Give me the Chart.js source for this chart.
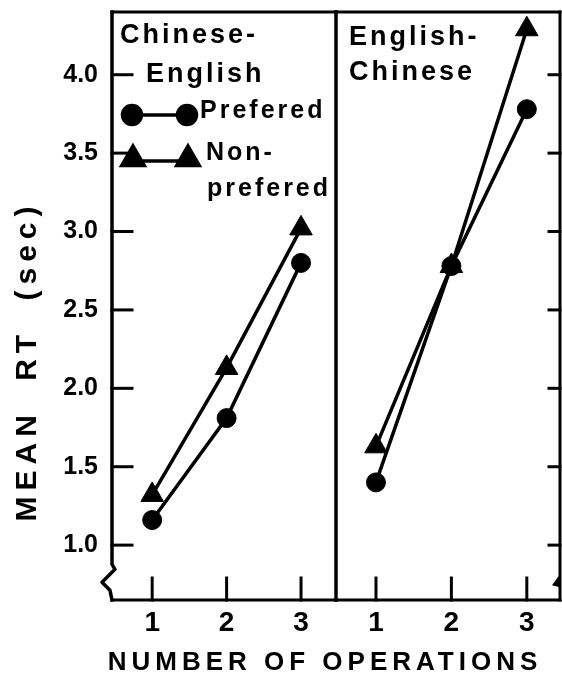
<!DOCTYPE html>
<html>
<head>
<meta charset="utf-8">
<script src="https://cdn.jsdelivr.net/npm/chart.js@4.4.0/dist/chart.umd.min.js"></script>
<style>
  html, body { margin: 0; padding: 0; background: #fff; }
  #wrap { position: relative; width: 562px; height: 673px; overflow: hidden; }
  canvas { position: absolute; top: 0; }
  #left { left: 0; }
  #right { left: 330px; }
  .axis-title {
    position: absolute;
    font-family: 'Liberation Sans', Arial, sans-serif;
    font-weight: bold;
    color: #000;
    white-space: nowrap;
    text-align: center;
  }
  #ytitle {
    width: 400px; height: 32px; left: -174px; top: 345px;
    font-size: 30px; line-height: 32px;
    letter-spacing: 6px; word-spacing: 14px;
    transform: rotate(-90deg);
  }
  #xtitle {
    width: 480px; left: 85px; top: 648px;
    font-size: 26px; line-height: 26px;
    letter-spacing: 5px;
  }
</style>
</head>
<body>
<div id="wrap">
  <canvas id="left" width="340" height="673"></canvas>
  <canvas id="right" width="232" height="673"></canvas>
  <div id="ytitle" class="axis-title">MEAN RT (sec)</div>
  <div id="xtitle" class="axis-title">NUMBER OF OPERATIONS</div>
</div>
<script>
const operations = [1, 2, 3];
const yTicks = [1.0, 1.5, 2.0, 2.5, 3.0, 3.5, 4.0];

// Chinese-English panel
const cePrefered = [1.16, 1.81, 2.80];
const ceNonPrefered = [1.32, 2.13, 3.02];

// English-Chinese panel
const ecPrefered = [1.40, 2.78, 3.78];
const ecNonPrefered = [1.63, 2.78, 4.29];

const FONT = "'Liberation Sans', Arial, sans-serif";
Chart.defaults.font.family = FONT;
Chart.defaults.color = '#000';

const points = vals => operations.map((x, i) => ({ x: x, y: vals[i] }));

function lineSet(label, vals, style, radius) {
  return {
    label: label,
    data: points(vals),
    borderColor: '#000',
    backgroundColor: '#000',
    borderWidth: 3.5,
    pointStyle: style,
    pointRadius: radius,
    pointBorderWidth: 1,
    clip: false
  };
}

function seg(ctx, x1, y1, x2, y2) {
  ctx.beginPath();
  ctx.moveTo(x1, y1);
  ctx.lineTo(x2, y2);
  ctx.stroke();
}

// box, inward tick marks and axis break
const framePlugin = {
  id: 'frame',
  beforeDatasetsDraw(chart, args, opts) {
    const ctx = chart.ctx;
    const { left, right, top, bottom } = chart.chartArea;
    const x = chart.scales.x, y = chart.scales.y;
    const yb = y.getPixelForValue(0.75);
    ctx.save();
    ctx.strokeStyle = '#000';
    ctx.fillStyle = '#000';
    ctx.lineWidth = 3;
    ctx.lineCap = 'square';
    seg(ctx, left, top, right, top);
    seg(ctx, left, bottom, right, bottom);
    seg(ctx, right, top, right, bottom);
    if (opts.leftBreak) {
      ctx.beginPath();
      ctx.moveTo(left, top);
      ctx.lineTo(left, yb - 20);
      ctx.lineTo(left + 3, yb - 15);
      ctx.lineTo(left - 10, yb - 2);
      ctx.lineTo(left - 2, yb + 6);
      ctx.lineTo(left, bottom);
      ctx.lineJoin = 'round';
      ctx.lineWidth = 3.5;
      ctx.stroke();
      ctx.lineWidth = 3;
    } else {
      seg(ctx, left, top, left, bottom);
    }
    if (opts.rightBreak) {
      ctx.beginPath();
      ctx.moveTo(right, yb - 10);
      ctx.lineTo(right - 8, yb + 1);
      ctx.lineTo(right, yb + 3);
      ctx.closePath();
      ctx.fill();
    }
    y.ticks.forEach(t => {
      const py = y.getPixelForValue(t.value);
      if (opts.leftTicks) seg(ctx, left, py, left + 20, py);
      if (opts.rightTicks) seg(ctx, right - 11, py, right, py);
    });
    x.ticks.forEach(t => {
      const px = x.getPixelForValue(t.value);
      seg(ctx, px, bottom, px, bottom - 22);
    });
    ctx.restore();
  }
};

// panel headings and the key
const labelPlugin = {
  id: 'panelText',
  afterDraw(chart, args, opts) {
    const ctx = chart.ctx;
    const { left, top } = chart.chartArea;
    ctx.save();
    ctx.fillStyle = '#000';
    ctx.font = 'bold 27px ' + FONT;
    ctx.letterSpacing = '3px';
    ctx.textBaseline = 'alphabetic';
    ctx.textAlign = 'left';
    (opts.lines || []).forEach(l => ctx.fillText(l.text, left + l.dx, top + l.dy));

    if (opts.key) {
      const ds = chart.data.datasets;
      const rows = [
        { set: ds[0], x1: 20, x2: 75, dy: 103 },
        { set: ds[1], x1: 21, x2: 76, dy: 149 }
      ];
      ctx.strokeStyle = '#000';
      ctx.lineWidth = 3.5;
      rows.forEach(r => {
        seg(ctx, left + r.x1, top + r.dy, left + r.x2, top + r.dy);
        [r.x1, r.x2].forEach(px => {
          Chart.helpers.drawPoint(ctx, {
            pointStyle: r.set.pointStyle, radius: r.set.pointRadius,
            rotation: 0, borderWidth: 1
          }, left + px, top + r.dy - (r.set.pointStyle === 'triangle' ? 2 : 0));
        });
      });
      ctx.font = 'bold 25px ' + FONT;
      ctx.fillText(ds[0].label, left + 88, top + 106);
      ctx.fillText('Non-', left + 94, top + 148);
      ctx.fillText('prefered', left + 95, top + 184);
    }
    ctx.restore();
  }
};

function makeOptions(showY, xMin, xMax, pad, frame, text) {
  return {
    responsive: false,
    animation: false,
    devicePixelRatio: 1,
    layout: { padding: pad, autoPadding: false },
    plugins: {
      legend: { display: false },
      tooltip: { enabled: false },
      frame: frame,
      panelText: text
    },
    scales: {
      x: {
        type: 'linear',
        min: xMin,
        max: xMax,
        afterBuildTicks: s => { s.ticks = operations.map(v => ({ value: v })); },
        afterFit: s => { s.height = 73; s.paddingLeft = 0; s.paddingRight = 0; },
        grid: { display: false, drawTicks: false },
        border: { display: false },
        ticks: { font: { size: 28, weight: 'bold' }, padding: 6, callback: v => String(v) }
      },
      y: {
        type: 'linear',
        display: showY,
        min: 0.65,
        max: 4.4,
        afterBuildTicks: s => { s.ticks = yTicks.map(v => ({ value: v })); },
        afterFit: s => {
          s.width = showY ? 112 : 0;
          s.paddingTop = 0;
          s.paddingBottom = 0;
        },
        grid: { display: false, drawTicks: false },
        border: { display: false },
        ticks: { font: { size: 25, weight: 'bold' }, padding: 14, callback: v => v.toFixed(1) }
      }
    }
  };
}

new Chart(document.getElementById('left'), {
  type: 'line',
  data: {
    datasets: [
      lineSet('Prefered', cePrefered, 'circle', 9.5),
      lineSet('Non-prefered', ceNonPrefered, 'triangle', 13)
    ]
  },
  options: makeOptions(true, 0.46, 3.47,
    { top: 12, right: 4, left: 0, bottom: 0 },
    { leftTicks: true, leftBreak: true },
    { key: true, lines: [{ text: 'Chinese-', dx: 8, dy: 31 }, { text: 'English', dx: 34, dy: 70 }] }),
  plugins: [framePlugin, labelPlugin]
});

new Chart(document.getElementById('right'), {
  type: 'line',
  data: {
    datasets: [
      lineSet('Prefered', ecPrefered, 'circle', 9.5),
      lineSet('Non-prefered', ecNonPrefered, 'triangle', 13)
    ]
  },
  options: makeOptions(false, 0.47, 3.44,
    { top: 12, right: 2, left: 6, bottom: 0 },
    { rightTicks: true, rightBreak: true },
    { lines: [{ text: 'English-', dx: 13, dy: 33 }, { text: 'Chinese', dx: 13, dy: 68 }] }),
  plugins: [framePlugin, labelPlugin]
});
</script>
</body>
</html>
